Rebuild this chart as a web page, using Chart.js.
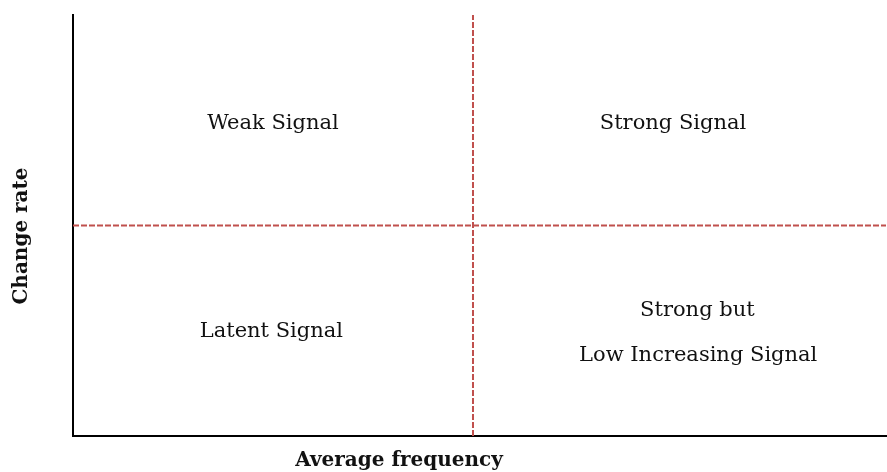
<!DOCTYPE html>
<html>
<head>
<meta charset="utf-8">
<script src="https://cdn.jsdelivr.net/npm/chart.js@4.4.1/dist/chart.umd.min.js"></script>
<style>
  html, body { margin: 0; padding: 0; background: #fff; }
  #wrap { width: 887px; height: 472px; }
</style>
</head>
<body>
<div id="wrap"><canvas id="quad"></canvas></div>
<script>
// quadrant split points (axis runs 0..10 on both sides)
const X_RANGE = [0, 10];
const Y_RANGE = [0, 10];
const X_SPLIT = 4.92;
const Y_SPLIT = 5.0;

// quadrant labels and where they sit
const quadLabels = ["Weak Signal", "Strong Signal", "Latent Signal", "Strong but", "Low Increasing Signal"];
const quadX      = [2.46, 7.38, 2.44, 7.68, 7.69];
const quadY      = [7.43, 7.43, 2.47, 2.97, 1.92];

const xTitle = "Average frequency";
const yTitle = "Change rate";

const SERIF = "'DejaVu Serif', 'Liberation Serif', serif";
const DASH_RED = "#c0504d";

const labelPlugin = {
  id: "quadText",
  afterDraw(chart) {
    const { ctx, chartArea } = chart;
    const xs = chart.scales.x, ys = chart.scales.y;
    ctx.save();
    ctx.fillStyle = "#111";
    ctx.textAlign = "center";
    ctx.textBaseline = "middle";
    ctx.font = "21px " + SERIF;
    quadLabels.forEach((t, i) => {
      ctx.fillText(t, xs.getPixelForValue(quadX[i]), ys.getPixelForValue(quadY[i]));
    });
    // axis titles
    ctx.font = "bold 20px " + SERIF;
    ctx.fillText(xTitle, xs.getPixelForValue(4.01), chartArea.bottom + 25);
    ctx.translate(22, 236);
    ctx.rotate(-Math.PI / 2);
    ctx.fillText(yTitle, 0, 0);
    ctx.restore();
  }
};

const dashStyle = {
  type: "line",
  borderColor: DASH_RED,
  borderWidth: 2,
  borderDash: [6, 2],
  pointRadius: 0,
  fill: false,
  showLine: true,
};

new Chart(document.getElementById("quad"), {
  type: "scatter",
  data: {
    datasets: [
      { ...dashStyle, data: [{ x: X_SPLIT, y: Y_RANGE[0] }, { x: X_SPLIT, y: Y_RANGE[1] }] },
      { ...dashStyle, data: [{ x: X_RANGE[0], y: Y_SPLIT }, { x: X_RANGE[1], y: Y_SPLIT }] },
    ],
  },
  options: {
    responsive: true,
    maintainAspectRatio: false,
    animation: false,
    layout: { padding: { left: 73, top: 15, right: 1, bottom: 36 } },
    plugins: { legend: { display: false }, tooltip: { enabled: false } },
    scales: {
      x: {
        type: "linear", min: X_RANGE[0], max: X_RANGE[1],
        ticks: { display: false },
        grid: { display: false, drawTicks: false },
        border: { display: true, color: "#000", width: 2 },
      },
      y: {
        type: "linear", min: Y_RANGE[0], max: Y_RANGE[1],
        ticks: { display: false },
        grid: { display: false, drawTicks: false },
        border: { display: true, color: "#000", width: 2 },
      },
    },
  },
  plugins: [labelPlugin],
});
</script>
</body>
</html>
